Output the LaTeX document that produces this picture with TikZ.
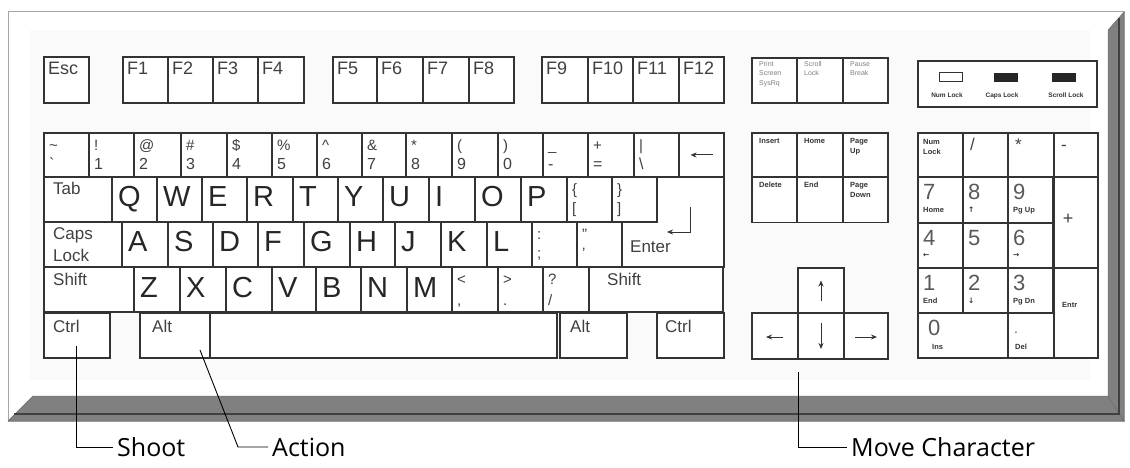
\documentclass[tikz,border=0pt]{standalone}
\usepackage{fontspec}
\setmainfont{Liberation Sans}
\newfontfamily\notefont{Open Sans}
\newfontfamily\symfont{DejaVu Sans}
\usetikzlibrary{arrows.meta}

\tikzset{
  keycap/.style={draw=black!80, line width=1.1pt, fill=white, inner sep=0pt, outer sep=0pt, anchor=north west, minimum height=45},
  keyletter/.style={font=\fontsize{29}{29}\selectfont, text=black!85, anchor=base west, inner sep=0pt},
  keyfn/.style={font=\fontsize{18}{18}\selectfont, text=black!75, anchor=base west, inner sep=0pt},
  keyname/.style={font=\fontsize{17}{22}\selectfont, text=black!75, anchor=base west, inner sep=0pt, align=left},
  keysym/.style={font=\fontsize{15}{15}\selectfont, text=black!75, anchor=base west, inner sep=0pt},
  keytiny/.style={font=\bfseries\fontsize{7.5}{10}\selectfont, text=black!80, anchor=north west, inner sep=0pt, align=left},
  padnum/.style={font=\fontsize{22}{22}\selectfont, text=black!65, anchor=base west, inner sep=0pt},
  keyarrow/.style={-{Stealth[length=6pt, width=5pt]}, line width=1pt, draw=black!80},
  note/.style={font=\notefont\fontsize{25}{25}\selectfont, anchor=west, inner xsep=4pt, inner ysep=0pt},
  leader/.style={line width=0.9pt, draw=black},
}

\begin{document}
\begin{tikzpicture}[x=1pt,y=-1pt]
\useasboundingbox (0,0) rectangle (1130,468);

% keyboard case
\draw[black!35, fill=white] (8,11) rectangle (1124,421);
\fill[black!2] (30,30) rectangle (1090,380);
\draw[black!60, fill=black!50] (33,396) -- (1108,396) -- (1124,421) -- (8,421) -- cycle;
\draw[black!60, fill=black!50] (1108,30) -- (1124,12) -- (1124,421) -- (1108,396) -- cycle;
\draw[black!75, line width=1.2pt] (14,414) -- (1119,414) -- (1119,18);

% function row
\node[keycap, minimum width=45, minimum height=46] (esc) at (44,57) {};
\node[keyfn] (esc-txt) at ([xshift=4pt,yshift=-18pt]esc.north west) {Esc};
\foreach \l/\r/\t in {123/168/F1, 168/213/F2, 213/258/F3, 258/304/F4,
    333/377/F5, 377/423/F6, 423/469/F7, 469/514/F8,
    542/588/F9, 588/633/F10, 633/679/F11, 679/724/F12}{
  \node[keycap, minimum width={\r-\l}, minimum height=46] (\t) at (\l,57) {};
  \node[keyfn] (\t-txt) at ([xshift=4pt,yshift=-18pt]\t.north west) {\t};
}
\foreach \l/\r/\t [count=\i] in {752/797/{Print\\Screen\\SysRq}, 797/843/{Scroll\\Lock}, 843/888/{Pause\\Break}}{
  \node[keycap, minimum width={\r-\l}] (sys\i) at (\l,58) {};
  \node[keytiny, font=\fontsize{7}{9.5}\selectfont, text=black!50] (sys\i-txt) at ([xshift=7pt,yshift=-3pt]sys\i.north west) {\t};
}

% lock lights
\node[keycap, minimum width=179, minimum height=46] (lockbox) at (918,61) {};
\node[draw=black!80, line width=1pt, fill=white, minimum width=23, minimum height=9, inner sep=0pt] (numled) at (950.5,77.5) {};
\node[fill=black!85, minimum width=24, minimum height=9, inner sep=0pt] (capsled) at (1006,77.5) {};
\node[fill=black!85, minimum width=24, minimum height=9, inner sep=0pt] (scrollled) at (1064,77.5) {};
\node[keytiny, font=\bfseries\fontsize{6.5}{7}\selectfont, anchor=base] (numled-txt) at (947,98) {Num Lock};
\node[keytiny, font=\bfseries\fontsize{6.5}{7}\selectfont, anchor=base] (capsled-txt) at (1002,98) {Caps Lock};
\node[keytiny, font=\bfseries\fontsize{6.5}{7}\selectfont, anchor=base] (scrollled-txt) at (1066,98) {Scroll Lock};

% number row
\foreach \l/\r/\a/\b [count=\i] in {44/89/\textasciitilde/\textasciigrave, 89/134/!/1, 134/181/@/2,
    181/227/\#/3, 227/272/\$/4, 272/317/\%/5, 317/362/\textasciicircum/6, 362/406/\&/7,
    406/452/*/8, 452/498/{(}/9, 498/543/{)}/0, 543/588/\_/-, 588/634/+/=, 634/679/|/\textbackslash}{
  \node[keycap, minimum width={\r-\l}, minimum height=44] (num\i) at (\l,133) {};
  \node[keysym] (num\i-up) at ([xshift=5pt,yshift=-17pt]num\i.north west) {\a};
  \node[keysym, font=\fontsize{16}{16}\selectfont] (num\i-dn) at ([xshift=5pt,yshift=-36pt]num\i.north west) {\b};
}
\node[keycap, minimum width=45, minimum height=44] (back) at (679,133) {};
\draw[keyarrow] ([xshift=11pt]back.center) -- ([xshift=-11pt]back.center);

% tab row
\draw[keycap] (657,177) -- (724,177) -- (724,267) -- (622,267) -- (622,222) -- (657,222) -- cycle;
\node[keycap, minimum width=68] (tab) at (44,177) {};
\node[keyname] (tab-txt) at ([xshift=9pt,yshift=-17pt]tab.north west) {Tab};
\foreach \l/\r/\t in {112/157/Q, 157/202/W, 202/247/E, 247/293/R, 293/338/T,
    338/383/Y, 383/429/U, 429/475/I, 475/521/O, 521/567/P}{
  \node[keycap, minimum width={\r-\l}] (k\t) at (\l,177) {};
  \node[keyletter] (k\t-txt) at ([xshift=6pt,yshift=-29pt]k\t.north west) {\t};
}
\foreach \l/\r/\a/\b [count=\i] in {567/612/\{/[, 612/657/\}/]}{
  \node[keycap, minimum width={\r-\l}] (brk\i) at (\l,177) {};
  \node[keysym] (brk\i-up) at ([xshift=5pt,yshift=-17pt]brk\i.north west) {\a};
  \node[keysym] (brk\i-dn) at ([xshift=5pt,yshift=-36pt]brk\i.north west) {\b};
}
\node[keyname] (enter-txt) at (630,252) {Enter};
\coordinate (enterarrow) at (690,207);
\draw[keyarrow] (enterarrow) -- ++(0,25) -- ++(-23,0);

% caps row
\node[keycap, minimum width=78] (caps) at (44,222) {};
\node[keyname, anchor=north west] (caps-txt) at ([xshift=9pt,yshift=-5pt]caps.north west) {Caps\\Lock};
\foreach \l/\r/\t in {122/168/A, 168/213/S, 213/258/D, 258/304/F, 304/350/G,
    350/395/H, 395/441/J, 441/487/K, 487/532/L}{
  \node[keycap, minimum width={\r-\l}] (k\t) at (\l,222) {};
  \node[keyletter] (k\t-txt) at ([xshift=6pt,yshift=-29pt]k\t.north west) {\t};
}
\foreach \l/\r/\a/\b [count=\i] in {532/577/:/;, 577/622/"/'}{
  \node[keycap, minimum width={\r-\l}] (semi\i) at (\l,222) {};
  \node[keysym] (semi\i-up) at ([xshift=5pt,yshift=-17pt]semi\i.north west) {\a};
  \node[keysym] (semi\i-dn) at ([xshift=5pt,yshift=-36pt]semi\i.north west) {\b};
}

% shift row
\node[keycap, minimum width=90] (lshift) at (44,267) {};
\node[keyname] (lshift-txt) at ([xshift=9pt,yshift=-18pt]lshift.north west) {Shift};
\foreach \l/\r/\t in {134/180/Z, 180/226/X, 226/272/C, 272/316/V, 316/361/B,
    361/407/N, 407/452/M}{
  \node[keycap, minimum width={\r-\l}] (k\t) at (\l,267) {};
  \node[keyletter] (k\t-txt) at ([xshift=6pt,yshift=-30pt]k\t.north west) {\t};
}
\foreach \l/\r/\a/\b [count=\i] in {452/498/</{,}, 498/543/>/., 543/589/?/{/}}{
  \node[keycap, minimum width={\r-\l}] (punct\i) at (\l,267) {};
  \node[keysym] (punct\i-up) at ([xshift=5pt,yshift=-17pt]punct\i.north west) {\a};
  \node[keysym] (punct\i-dn) at ([xshift=5pt,yshift=-38pt]punct\i.north west) {\b};
}
\node[keycap, minimum width=134] (rshift) at (589,267) {};
\node[keyname] (rshift-txt) at ([xshift=18pt,yshift=-18pt]rshift.north west) {Shift};

% bottom row
\node[keycap, minimum width=66] (lctrl) at (44,313) {};
\node[keyname] (lctrl-txt) at ([xshift=9pt,yshift=-19pt]lctrl.north west) {Ctrl};
\node[keycap, minimum width=70] (lalt) at (140,313) {};
\node[keyname] (lalt-txt) at ([xshift=12pt,yshift=-19pt]lalt.north west) {Alt};
\node[keycap, minimum width=347] (space) at (210,313) {};
\node[keycap, minimum width=67] (ralt) at (560,313) {};
\node[keyname] (ralt-txt) at ([xshift=10pt,yshift=-19pt]ralt.north west) {Alt};
\node[keycap, minimum width=67] (rctrl) at (657,313) {};
\node[keyname] (rctrl-txt) at ([xshift=8pt,yshift=-19pt]rctrl.north west) {Ctrl};

% editing keys
\foreach \l/\r/\y/\t [count=\i] in {752/797/133/Insert, 797/843/133/Home, 843/888/133/{Page\\Up},
    752/797/177/Delete, 797/843/177/End, 843/888/177/{Page\\Down}}{
  \node[keycap, minimum width={\r-\l}, minimum height=45.5] (edit\i) at (\l,\y) {};
  \node[keytiny] (edit\i-txt) at ([xshift=7pt,yshift=-5pt]edit\i.north west) {\t};
}

% arrow keys
\node[keycap, minimum width=46] (up) at (798,268) {};
\node[keycap, minimum width=46, minimum height=46] (left) at (752,313) {};
\node[keycap, minimum width=46, minimum height=46] (down) at (798,313) {};
\node[keycap, minimum width=44, minimum height=46] (right) at (844,313) {};
\draw[keyarrow] ([yshift=-10pt]up.center) -- ([yshift=10pt]up.center);
\draw[keyarrow] ([yshift=13pt]down.center) -- ([yshift=-13pt]down.center);
\draw[keyarrow] ([xshift=8pt,yshift=-1pt]left.center) -- ([xshift=-9pt,yshift=-1pt]left.center);
\draw[keyarrow] ([xshift=-11pt,yshift=-1pt]right.center) -- ([xshift=11pt,yshift=-1pt]right.center);

% number pad
\node[keycap, minimum width=45, minimum height=44] (padnumlock) at (918,133) {};
\node[keytiny] (padnumlock-txt) at ([xshift=5pt,yshift=-6pt]padnumlock.north west) {Num\\Lock};
\foreach \l/\r/\t/\s in {963/1008/{/}/padslash, 1008/1054/*/padstar, 1054/1098/-/padminus}{
  \node[keycap, minimum width={\r-\l}, minimum height=44] (\s) at (\l,133) {};
  \node[keysym, font=\fontsize{17}{17}\selectfont] (\s-txt) at ([xshift=7pt,yshift=-17pt]\s.north west) {\t};
}
\foreach \l/\y/\d/\s in {918/177/7/Home, 963/177/8/{\symfont ↑}, 1008/177/9/{Pg Up},
    918/223/4/{\symfont ←}, 963/223/5/{}, 1008/223/6/{\symfont →},
    918/268/1/End, 963/268/2/{\symfont ↓}, 1008/268/3/{Pg Dn}}{
  \node[keycap, minimum width=45, minimum height=45.5] (pad\d) at (\l,\y) {};
  \node[padnum] (pad\d-txt) at ([xshift=5pt,yshift=-22pt]pad\d.north west) {\d};
  \node[keytiny] (pad\d-sub) at ([xshift=5pt,yshift=-30pt]pad\d.north west) {\s};
}
\node[keycap, minimum width=44, minimum height=91] (padplus) at (1054,177) {};
\node[keysym, anchor=center, font=\fontsize{18}{18}\selectfont] (padplus-txt) at ([xshift=-8pt,yshift=3pt]padplus.center) {+};
\node[keycap, minimum width=44, minimum height=90] (padenter) at (1054,268) {};
\node[keytiny] (padenter-txt) at ([xshift=8pt,yshift=-34pt]padenter.north west) {Entr};
\node[keycap, minimum width=90] (pad0) at (918,313) {};
\node[padnum] (pad0-txt) at ([xshift=10pt,yshift=-22pt]pad0.north west) {0};
\node[keytiny] (pad0-sub) at ([xshift=14pt,yshift=-31pt]pad0.north west) {Ins};
\node[keycap, minimum width=46] (paddel) at (1008,313) {};
\node[padnum, font=\fontsize{14}{14}\selectfont] (paddel-txt) at ([xshift=6pt,yshift=-20pt]paddel.north west) {.};
\node[keytiny] (paddel-sub) at ([xshift=7pt,yshift=-31pt]paddel.north west) {Del};

% what the keys do
\coordinate (shootpt) at (76,346);
\node[note] (shoot) at (113,447) {Shoot};
\draw[leader] (shootpt) |- (shoot.west);
\coordinate (actionpt) at (200,350);
\coordinate (actionbend) at (238,447);
\node[note] (action) at (268,447) {Action};
\draw[leader] (actionpt) -- (actionbend) -- (action.west);
\coordinate (movept) at (798,372);
\node[note] (move) at (847,447) {Move Character};
\draw[leader] (movept) |- (move.west);
\end{tikzpicture}
\end{document}
